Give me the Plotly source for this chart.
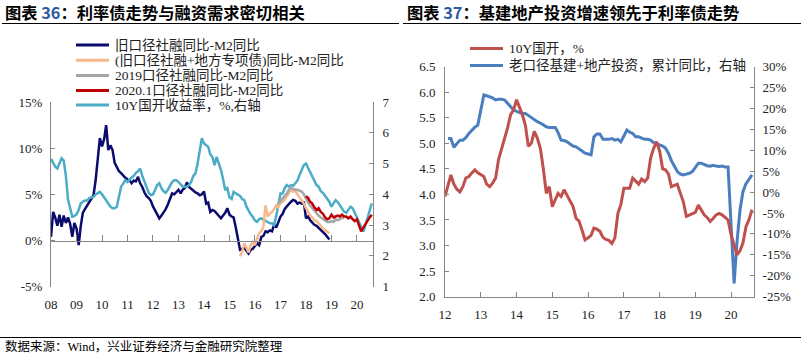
import plotly.graph_objects as go
import pandas as pd

W, H = 801, 356

# ---------------- Left panel data (图表36) ----------------
navy_start = "2008-01-01"
navy_vals = [
    0.4, 3.1, 2.5, 1.6, 2.8, 1.5, 2.7, 1.9, 2.5, 1.8, 0.4, 1.9,
    1.3, -0.5, 1.5, 3.0, 3.4, 3.8, 4.2, 4.5, 4.9, 6.5, 8.5, 11.1,
    10.2, 11.0, 12.5, 9.8, 10.3, 9.8, 8.4, 8.0, 7.5, 7.3, 7.0, 6.8,
    6.6, 6.5, 6.2, 6.5, 6.4, 6.9, 6.2, 5.8, 5.2, 4.8, 4.6, 4.3,
    3.7, 3.2, 2.8, 2.4, 2.7, 3.0, 3.4, 3.9, 4.6, 5.1, 5.0, 5.3,
    5.5, 5.1, 5.5, 5.7, 6.3, 5.8, 5.6, 5.3, 5.2, 5.1, 4.9, 5.0,
    5.3, 4.0, 4.1, 3.1, 3.3, 3.2, 2.9, 2.6, 2.4, 2.7, 3.0, 3.5,
    2.8, 2.6, 2.5, 1.4, 0.2, -1.0, -0.9, -0.8, -1.1, -1.4, -1.0, -0.9,
    -0.6, -0.3, -0.5, 0.4, 0.5, 1.0, 0.9, 1.1, 1.0, 1.7, 1.4, 2.1,
    2.6, 2.9, 3.4, 3.7, 4.0, 4.2, 4.4, 4.3, 4.0, 4.1, 4.0, 4.2,
    2.4, 2.6, 2.2, 1.9, 1.7, 1.6, 1.4, 1.1, 1.0, 0.7, 0.4, 0.1,
]

orange_start = "2015-06-01"
orange_vals = [
    -1.7, -1.2, -0.3, -0.8, -1.3, -0.5, -0.2,
    -0.5, 0.3, 0.8, 1.0, 1.5, 3.8, 2.6, 2.9, 3.1, 3.4, 3.8, 3.6,
    4.1, 4.2, 4.4, 4.8, 5.2, 5.5, 5.3, 5.4, 5.0, 4.7, 4.4, 4.0,
    3.5, 3.0, 2.7, 2.5, 2.2, 2.1, 1.9, 1.6, 1.3, 1.1, 1.0, 0.8,
]

gray_start = "2016-12-01"
gray_vals = [
    4.0,
    4.3, 4.5, 4.8, 5.1, 5.5, 5.7, 5.6, 5.5, 5.5, 5.4, 5.3, 5.0,
    4.5, 4.1, 3.8, 3.5, 3.2, 2.9, 2.7, 2.5, 2.3, 2.1, 2.0, 2.0,
    2.1, 2.0, 2.3, 2.2, 2.3, 2.5, 2.4,
]

red_start = "2018-01-01"
red_vals = [
    4.8, 4.6, 4.2, 4.0, 3.6, 3.3, 3.5, 3.1, 2.9, 2.5, 2.3, 2.4,
    2.8, 2.5, 2.6, 2.7, 2.6, 2.8, 2.6, 2.6, 2.4, 2.6, 2.3, 2.1,
    2.3, 1.6, 1.0, 1.4, 1.8, 2.1, 2.5, 2.8,
]

cyan_start = "2008-01-01"
cyan_vals = [
    5.15, 5.0, 4.9, 4.84, 5.0, 5.17, 5.1, 4.6, 3.82, 3.5, 3.27, 3.3,
    3.35, 3.5, 3.7, 3.76, 3.8, 3.8, 3.88, 3.9, 3.92, 4.0, 4.05, 4.08,
    4.0, 3.9, 3.81, 3.7, 3.6, 3.55, 3.55, 3.6, 3.9, 4.25, 4.35, 4.46,
    4.4, 4.49, 4.55, 4.6, 4.7, 4.75, 4.84, 4.6, 4.4, 4.2, 4.05, 3.98,
    4.0, 4.15, 4.3, 4.36, 4.2, 4.1, 4.05, 4.15, 4.3, 4.4, 4.46, 4.46,
    4.4, 4.3, 4.25, 4.25, 4.25, 4.3, 4.4, 4.6, 4.68, 5.0, 5.44, 5.82,
    5.65, 5.6, 5.55, 5.3, 5.22, 4.95, 5.22, 5.0, 4.79, 4.5, 4.14, 4.2,
    3.9, 3.85, 4.08, 4.03, 4.0, 3.95, 3.85, 3.81, 3.6, 3.45, 3.35, 3.27,
    3.15, 3.11, 3.2, 3.22, 3.18, 3.15, 3.1, 3.06, 3.06, 3.0, 3.3, 3.7,
    4.03, 4.03, 4.2, 4.3, 4.25, 4.3, 4.28, 4.36, 4.45, 4.63, 4.8, 4.95,
    5.0, 4.85, 4.7, 4.57, 4.45, 4.3, 4.25, 4.1, 4.05, 3.95, 3.85, 3.76,
    3.6, 3.7, 3.81, 3.75, 3.65, 3.55, 3.44, 3.4, 3.5, 3.6, 3.55, 3.4,
    3.3, 3.1, 2.95, 2.79, 3.0, 3.22, 3.45, 3.71,
]

left_pct_ticks = [-5, 0, 5, 10, 15]
left_pct_text = ["-5%", "0%", "5%", "10%", "15%"]

# ---------------- Right panel data (图表37) ----------------
cdb_start = "2012-01-01"
cdb_vals = [
    3.96, 4.2, 4.38, 4.2, 4.1, 4.05, 4.15, 4.32, 4.35, 4.42, 4.48, 4.42,
    4.38, 4.35, 4.2, 4.15, 4.22, 4.32, 4.68, 4.9, 5.07, 5.3, 5.56, 5.65,
    5.85, 5.7, 5.56, 5.35, 4.94, 5.0, 5.23, 5.1, 4.9, 4.5, 4.02, 4.15,
    3.76, 3.9, 4.02, 3.96, 4.09, 3.98, 3.88, 3.76, 3.53, 3.48, 3.3, 3.11,
    3.15, 3.2, 3.34, 3.32, 3.28, 3.16, 3.12, 3.1, 3.04, 3.15, 3.63, 3.8,
    4.12, 4.12, 4.12, 4.32, 4.25, 4.2, 4.3, 4.25, 4.32, 4.71, 4.9, 5.03,
    4.85, 4.5, 4.48, 4.4, 4.15, 4.17, 4.2, 4.02, 3.85, 3.57, 3.6, 3.62,
    3.65, 3.79, 3.7, 3.6, 3.55, 3.47, 3.53, 3.6, 3.63, 3.6, 3.55, 3.5,
    3.21, 3.0, 2.82, 2.9, 3.05, 3.37, 3.5, 3.70,
]

inv_months = (
    ["2012-%02d" % m for m in range(2, 13)]
    + ["2013-%02d" % m for m in range(2, 13)]
    + ["2014-%02d" % m for m in range(2, 13)]
    + ["2015-%02d" % m for m in range(2, 13)]
    + ["2016-%02d" % m for m in range(2, 13)]
    + ["2017-%02d" % m for m in range(2, 13)]
    + ["2018-%02d" % m for m in range(2, 13)]
    + ["2019-%02d" % m for m in range(2, 13)]
    + ["2020-%02d" % m for m in range(2, 9)]
)
inv_vals = [
    12.8, 12.8, 10.7, 11.5, 12.4, 12.4, 13.0, 14.0, 14.8, 15.5, 16.0,
    23.2, 23.0, 22.8, 22.5, 22.0, 22.2, 22.2, 22.0, 21.2, 20.5, 19.6,
    19.0, 18.8, 18.8, 18.3, 18.0, 17.4, 16.8, 16.5, 16.0, 15.6, 15.4,
    15.4, 14.2, 12.4, 12.3, 12.0, 11.5, 11.0, 10.8, 10.2, 9.8, 9.3,
    8.9, 13.2, 13.9, 13.9, 12.6, 12.6, 12.6, 12.8, 12.4, 12.6, 12.0,
    14.8, 14.3, 14.0, 13.2, 13.2, 12.9, 12.6, 12.6, 12.4, 11.8, 11.5,
    11.0, 10.5, 9.3, 7.5, 6.0, 4.9, 4.3, 4.1, 4.3, 4.5, 4.9,
    6.9, 6.9, 6.5, 6.3, 6.2, 6.4, 6.2, 6.1, 6.2, 6.0, 6.0,
    -21.8, -12.0, -4.3, 0.1, 2.0, 3.0, 4.1,
]

right_pct_ticks = [-25, -20, -15, -10, -5, 0, 5, 10, 15, 20, 25, 30]
right_pct_text = ["-25%", "-20%", "-15%", "-10%", "-5%", "0%", "5%",
                  "10%", "15%", "20%", "25%", "30%"]


def months(start, n):
    return pd.date_range(start, periods=n, freq="MS")


def fx(x):
    return x / W


def fy(y):
    return 1 - y / H


NAVY = "#0b0b6e"
ORANGE = "#f8b88b"
GRAY = "#a6a6a6"
RED = "#c00000"
CYAN = "#4bacc6"
RED2 = "#c0504d"
BLUE = "#4a7ebf"
AXC = "#868686"
SERIF = "Liberation Serif, Times New Roman, Noto Sans CJK SC, serif"
CJK = "Noto Sans CJK SC, sans-serif"
tickfont = dict(family=SERIF, size=13, color="#222222")

fig = go.Figure()
fig.add_trace(go.Scatter(x=months(navy_start, len(navy_vals)), y=navy_vals, mode="lines",
                         line=dict(color=NAVY, width=2.5), xaxis="x", yaxis="y",
                         name="旧口径社融同比-M2同比"))
fig.add_trace(go.Scatter(x=months(orange_start, len(orange_vals)), y=orange_vals, mode="lines",
                         line=dict(color=ORANGE, width=2.5), xaxis="x2", yaxis="y",
                         name="(旧口径社融+地方专项债)同比-M2同比"))
fig.add_trace(go.Scatter(x=months(gray_start, len(gray_vals)), y=gray_vals, mode="lines",
                         line=dict(color=GRAY, width=2.5), xaxis="x2", yaxis="y",
                         name="2019口径社融同比-M2同比"))
fig.add_trace(go.Scatter(x=months(red_start, len(red_vals)), y=red_vals, mode="lines",
                         line=dict(color=RED, width=2.5), xaxis="x2", yaxis="y",
                         name="2020.1口径社融同比-M2同比"))
fig.add_trace(go.Scatter(x=months(cyan_start, len(cyan_vals)), y=cyan_vals, mode="lines",
                         line=dict(color=CYAN, width=2.5), xaxis="x", yaxis="y2",
                         name="10Y国开收益率，%,右轴"))
fig.add_trace(go.Scatter(x=pd.to_datetime(inv_months), y=inv_vals, mode="lines",
                         line=dict(color=BLUE, width=3), xaxis="x3", yaxis="y3",
                         name="老口径基建+地产投资，累计同比，右轴"))
fig.add_trace(go.Scatter(x=months(cdb_start, len(cdb_vals)), y=cdb_vals, mode="lines",
                         line=dict(color=RED2, width=3), xaxis="x3", yaxis="y4",
                         name="10Y国开，%"))

L_RANGE = ["2008-01-01", "2020-08-18"]
R_RANGE = ["2012-01-01", "2020-08-22"]
left_dom = [fy(286.7), fy(102)]
zero_pos = left_dom[0] + (0 - (-5)) / 20 * (left_dom[1] - left_dom[0])

common = dict(automargin=False, showgrid=False, zeroline=False)

fig.update_layout(
    width=W, height=H, margin=dict(l=0, r=0, t=0, b=0, autoexpand=False),
    paper_bgcolor="white", plot_bgcolor="rgba(0,0,0,0)", showlegend=False,
    xaxis=dict(domain=[fx(51), fx(373)], anchor="y", type="date", range=L_RANGE,
               tick0="2008-01-01", dtick="M12", tickformat="%y", showline=False,
               ticks="", tickfont=tickfont, ticklabelstandoff=8, **common),
    xaxis2=dict(overlaying="x", anchor="free", position=zero_pos, type="date",
                range=L_RANGE, tick0="2008-01-01", dtick="M12", showticklabels=False,
                showline=True, linecolor=AXC, linewidth=1, ticks="inside", ticklen=6,
                tickcolor=AXC, **common),
    yaxis=dict(domain=left_dom, anchor="x", range=[-5, 15], tickvals=left_pct_ticks,
               ticktext=left_pct_text, showline=True, linecolor=AXC, ticks="inside",
               ticklen=4, tickcolor=AXC, tickfont=tickfont, ticklabelstandoff=5, **common),
    yaxis2=dict(overlaying="y", side="right", anchor="x", range=[1, 7], dtick=1,
                tick0=1, showline=True, linecolor=AXC, ticks="inside", ticklen=4,
                tickcolor=AXC, tickfont=tickfont, ticklabelstandoff=6, **common),
    xaxis3=dict(domain=[fx(445), fx(754)], anchor="y3", type="date", range=R_RANGE,
                tick0="2012-01-01", dtick="M12", tickformat="%y", showline=True,
                linecolor=AXC, ticks="inside", ticklen=5, tickcolor=AXC,
                tickfont=tickfont, ticklabelstandoff=6, **common),
    yaxis3=dict(domain=[fy(296.7), fy(66.5)], anchor="x3", side="right",
                range=[-25, 30], tickvals=right_pct_ticks, ticktext=right_pct_text,
                showline=True, linecolor=AXC, ticks="inside", ticklen=4, tickcolor=AXC,
                tickfont=tickfont, ticklabelstandoff=5, **common),
    yaxis4=dict(overlaying="y3", side="left", anchor="x3", range=[2.0, 6.5], dtick=0.5,
                tick0=2.0, tickformat=".1f", showline=True, linecolor=AXC,
                ticks="inside", ticklen=4, tickcolor=AXC, tickfont=tickfont,
                ticklabelstandoff=6, **common),
)

shapes = []
annotations = []

# titles
annotations.append(dict(
    x=fx(3), y=fy(12), xref="paper", yref="paper", xanchor="left", yanchor="middle",
    showarrow=False, font=dict(family=CJK, size=16.3, color="#000000"),
    text="<b>图表 <span style='color:#2d5aa0'>36</span>：利率债走势与融资需求密切相关</b>"))
annotations.append(dict(
    x=fx(405), y=fy(12), xref="paper", yref="paper", xanchor="left", yanchor="middle",
    showarrow=False, font=dict(family=CJK, size=16.3, color="#000000"),
    text="<b>图表 <span style='color:#2d5aa0'>37</span>：基建地产投资增速领先于利率债走势</b>"))
shapes.append(dict(type="line", xref="paper", yref="paper", x0=fx(2), x1=fx(399),
                   y0=fy(23.5), y1=fy(23.5), line=dict(color="#000000", width=1)))
shapes.append(dict(type="line", xref="paper", yref="paper", x0=fx(403), x1=fx(801),
                   y0=fy(23.5), y1=fy(23.5), line=dict(color="#000000", width=1)))
shapes.append(dict(type="line", xref="paper", yref="paper", x0=fx(0), x1=fx(801),
                   y0=fy(337.5), y1=fy(337.5), line=dict(color="#000000", width=1)))
annotations.append(dict(
    x=fx(3), y=fy(346), xref="paper", yref="paper", xanchor="left", yanchor="middle",
    showarrow=False, font=dict(family=SERIF, size=12.5, color="#000000"),
    text="数据来源：Wind，兴业证券经济与金融研究院整理"))

# left legend
left_leg = [
    ("旧口径社融同比-M2同比", NAVY),
    ("(旧口径社融+地方专项债)同比-M2同比", ORANGE),
    ("2019口径社融同比-M2同比", GRAY),
    ("2020.1口径社融同比-M2同比", RED),
    ("10Y国开收益率，%,右轴", CYAN),
]
left_rows = [45, 60.3, 75.6, 90.6, 105]
for (txt, col), yy in zip(left_leg, left_rows):
    shapes.append(dict(type="line", xref="paper", yref="paper", x0=fx(76), x1=fx(109),
                       y0=fy(yy), y1=fy(yy), line=dict(color=col, width=3)))
    annotations.append(dict(x=fx(113), y=fy(yy), xref="paper", yref="paper",
                            xanchor="left", yanchor="middle", showarrow=False,
                            font=dict(family=SERIF, size=13.5, color="#222222"), text=txt))

right_leg = [("10Y国开，%", RED2), ("老口径基建+地产投资，累计同比，右轴", BLUE)]
right_rows = [48.5, 65.5]
for (txt, col), yy in zip(right_leg, right_rows):
    shapes.append(dict(type="line", xref="paper", yref="paper", x0=fx(470), x1=fx(503),
                       y0=fy(yy), y1=fy(yy), line=dict(color=col, width=3)))
    annotations.append(dict(x=fx(507), y=fy(yy), xref="paper", yref="paper",
                            xanchor="left", yanchor="middle", showarrow=False,
                            font=dict(family=SERIF, size=13.5, color="#222222"), text=txt))

fig.update_layout(shapes=shapes, annotations=annotations)
fig.write_html("out.html", config={"displayModeBar": False},
               post_script="document.body.style.margin='0';document.body.style.overflow='hidden';")
